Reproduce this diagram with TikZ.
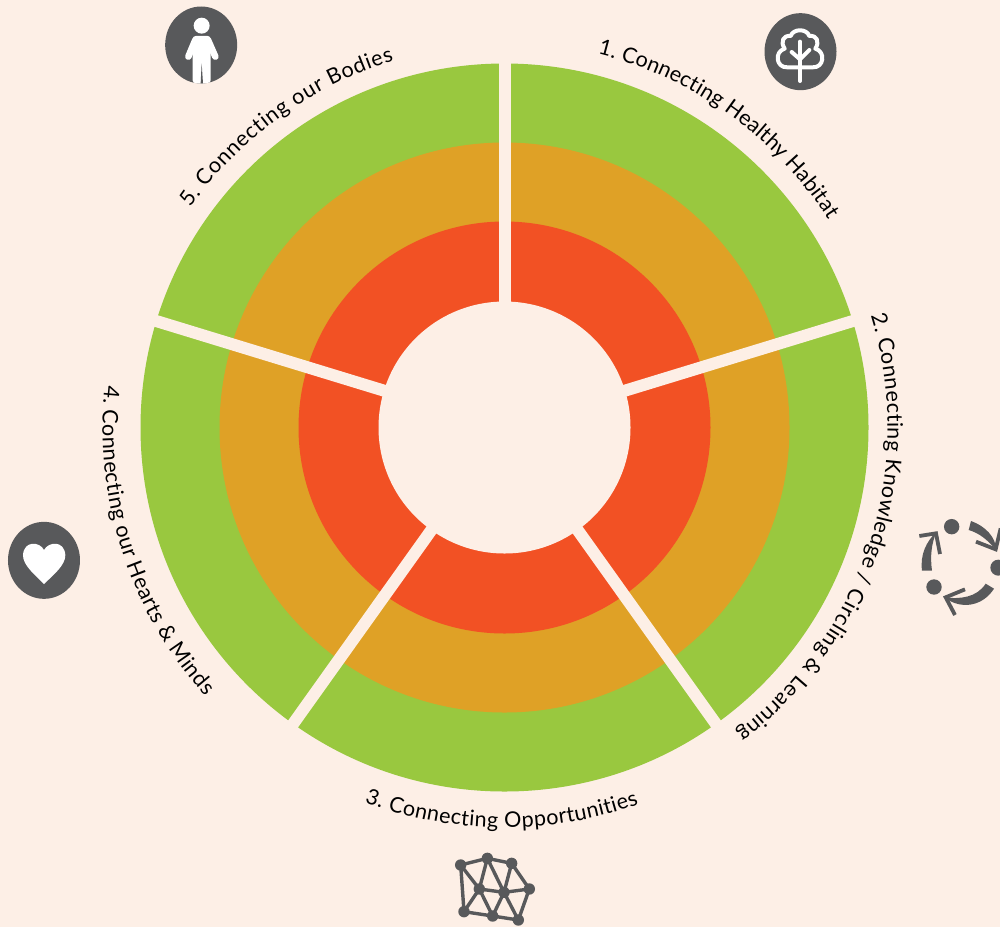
\documentclass[tikz,border=0pt]{standalone}
\usepackage{fontspec}
\setmainfont{Lato}
\definecolor{bgc}{HTML}{FDEFE6}
\definecolor{ringg}{HTML}{99C83F}
\definecolor{ringo}{HTML}{DFA126}
\definecolor{ringr}{HTML}{F25124}
\definecolor{icong}{HTML}{58595B}
\newcommand{\lbl}{\fontsize{21.5}{25}\selectfont}
\newlength{\arcw}
\newdimen\arcacc
% radius, start angle, direction (-1 clockwise, +1 counter-clockwise), tracking, name prefix, characters
\newcommand{\arcstring}[6]{%
  \global\arcacc=0pt
  \foreach \ch [count=\chn] in {#6}{%
    \pgfinterruptpicture\settowidth{\arcw}{\lbl\ch}\global\arcw=\arcw\endpgfinterruptpicture
    \pgfmathsetmacro{\ang}{#2+#3*(\arcacc+0.5*\arcw)/(#1pt)*57.29578}%
    \pgfmathsetmacro{\rot}{\ang+#3*90}%
    \node[anchor=base,inner sep=0pt,rotate=\rot] (#5\chn) at (\ang:#1pt) {\lbl\ch};%
    \global\advance\arcacc by \arcw
    \global\advance\arcacc by #4pt
  }%
}
\tikzset{
  ring/.style={fill=#1},
  gapline/.style={draw=bgc,line width=12pt,line cap=butt},
  badge/.style={fill=icong},
  iconwhite/.style={draw=white,line cap=round,line join=round},
  netnode/.style={circle,fill=icong,inner sep=0pt,minimum size=11.4pt},
  netedge/.style={draw=icong,line width=3.4pt},
  barb/.style={draw=icong,line width=3.8pt,miter limit=10},
}
\begin{document}
\begin{tikzpicture}[x=1pt,y=1pt]
\fill[bgc] (0,0) rectangle (1000,-927);
\useasboundingbox (0,0) rectangle (1000,-927);
\begin{scope}[shift={(504.5,-427.5)}]
  \coordinate (c) at (0,0);
  \fill[ring=ringg] (c) circle[radius=364pt];
  \fill[ring=ringo] (c) circle[radius=285pt];
  \fill[ring=ringr] (c) circle[radius=206pt];
  \foreach \a in {90,17,-54.5,-125.5,163}
    \draw[gapline] (c) -- (\a:372pt);
  \fill[bgc] (c) circle[radius=126pt];
  \arcstring{385}{76}{-1}{0.15}{ta}{1,.,~,C,o,n,n,e,c,t,i,n,g,~,H,e,a,l,t,h,y,~,H,a,b,i,t,a,t}
  \arcstring{383}{17}{-1}{0.55}{tb}{2,.,~,C,o,n,n,e,c,t,i,n,g,~,K,n,o,w,l,e,d,g,e,~,/,~,C,i,r,c,l,i,n,g,~,\&,~,L,e,a,r,n,i,n,g}
  \arcstring{400}{249.5}{1}{0.45}{tc}{3,.,~,C,o,n,n,e,c,t,i,n,g,~,O,p,p,o,r,t,u,n,i,t,i,e,s}
  \arcstring{402}{174}{1}{0.45}{td}{4,.,~,C,o,n,n,e,c,t,i,n,g,~,o,u,r,~,H,e,a,r,t,s,~,\&,~,M,i,n,d,s}
  \arcstring{383}{145}{-1}{0.75}{te}{5,.,~,C,o,n,n,e,c,t,i,n,g,~,o,u,r,~,B,o,d,i,e,s}
\end{scope}
% person
\begin{scope}[shift={(140,0)},x=0.3333pt,y=-0.3333pt]
  \fill[badge] (183.5,135) ellipse[x radius=36pt,y radius=38.5pt];
  \begin{scope}
    \clip (183.5,135) ellipse[x radius=36pt,y radius=38.5pt];
    \fill[white] (185,77) circle[radius=8pt];
    \fill[white,rounded corners=3pt] (158,250) -- (158,108) -- (212,108) -- (212,250) -- cycle;
    \draw[iconwhite,line width=6.6pt] (166,120) -- (145,170);
    \draw[iconwhite,line width=6.6pt] (204,120) -- (226,170);
    \fill[icong] (185,190) -- (182,250) -- (189,250) -- cycle;
  \end{scope}
\end{scope}
% tree
\begin{scope}[shift={(750,0)},x=0.3333pt,y=-0.3333pt]
  \fill[badge] (151.5,155) ellipse[x radius=36pt,y radius=38.5pt];
  \draw[iconwhite,line width=4pt] (112,202) .. controls (78,204) and (72,155) .. (104,146) .. controls (90,125) and (100,105) .. (122,108) .. controls (130,85) and (170,85) .. (178,108) .. controls (200,105) and (210,125) .. (196,146) .. controls (228,155) and (222,204) .. (188,202) -- cycle;
  \draw[iconwhite,line width=4pt] (150,125) -- (150,243);
  \draw[iconwhite,line width=4pt] (150,178) -- (125,156);
  \draw[iconwhite,line width=4pt] (150,178) -- (178,150);
\end{scope}
% cycle
\begin{scope}[shift={(900,-500)},x=0.3333pt,y=-0.3333pt]
  \fill[icong] (155,80) circle[radius=7.7pt];
  \fill[icong] (295,203) circle[radius=8pt];
  \fill[icong] (102,261) circle[radius=7.7pt];
  \fill[icong] (66,212) .. controls (60,165) and (78,125) .. (110,95) .. controls (94,130) and (90,170) .. (96,212) -- cycle;
  \fill[icong] (213,63) .. controls (255,78) and (287,110) .. (289,150) .. controls (262,120) and (240,100) .. (206,90) -- cycle;
  \fill[icong] (282,266) .. controls (250,317) and (185,332) .. (133,292) .. controls (180,298) and (230,293) .. (257,251) -- cycle;
  \draw[barb] (58,108) -- (108,100) -- (120,162);
  \draw[barb] (228,125) -- (287,148) -- (302,85);
  \draw[barb] (195,268) -- (137,292) -- (165,345);
\end{scope}
% network
\begin{scope}[shift={(440,-845)},x=0.3333pt,y=-0.3333pt]
  \foreach \nm/\px/\py in {A/62/60,B/142/40,C/215/55,D/268/132,E/192/142,F/118/132,G/72/200,H/158/213,I/235/225}
    \node[netnode] (\nm) at (\px,\py) {};
  \foreach \sa/\sb in {A/B,B/C,C/D,D/E,E/F,A/F,A/G,F/B,B/E,C/E,D/I,E/I,E/H,F/H,F/G,G/H,H/I}
    \draw[netedge] (\sa.center) -- (\sb.center);
\end{scope}
% heart
\begin{scope}[shift={(0,-510)},x=0.3333pt,y=-0.3333pt]
  \fill[badge] (132,151) ellipse[x radius=36pt,y radius=38.5pt];
  \fill[white] (132,120) .. controls (120,95) and (72,90) .. (69,135) .. controls (68,165) and (105,195) .. (132,222) .. controls (160,195) and (197,165) .. (196,135) .. controls (193,90) and (145,95) .. (132,120) -- cycle;
\end{scope}
\end{tikzpicture}
\end{document}
